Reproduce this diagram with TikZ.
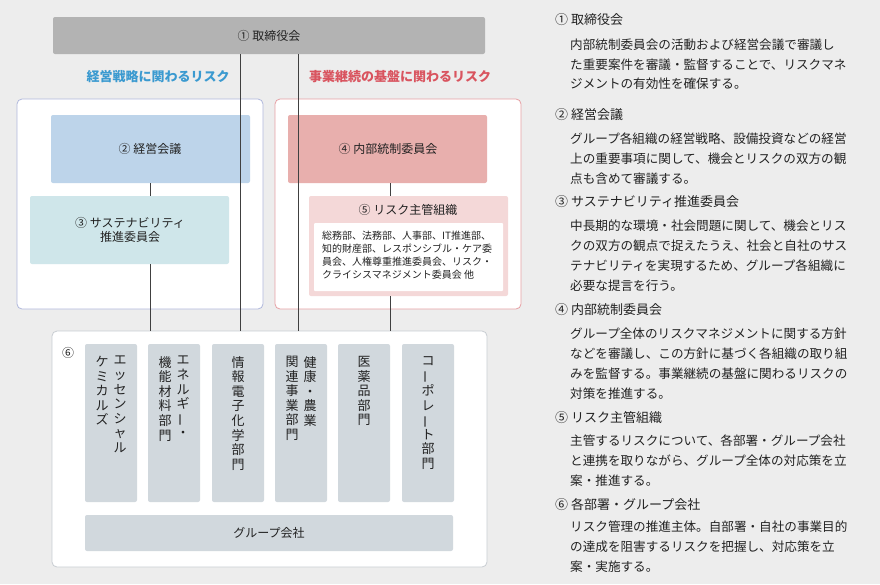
\documentclass[tikz,border=0pt]{standalone}
\usepackage{fontspec}
\setmainfont{Noto Sans CJK JP}
\newfontfamily\jp{Noto Sans CJK JP}
\usepackage{graphicx}
\definecolor{bg}{HTML}{EDEDED}
\definecolor{topg}{HTML}{B3B3B3}
\definecolor{bluel}{HTML}{3B9AD0}
\definecolor{redl}{HTML}{D9545F}
\definecolor{bpanel}{HTML}{B0B8DC}
\definecolor{rpanel}{HTML}{E6A0A4}
\definecolor{b2}{HTML}{BDD4EA}
\definecolor{b3}{HTML}{CFE6EA}
\definecolor{b4}{HTML}{E8AFAD}
\definecolor{b5}{HTML}{F4D8D8}
\definecolor{colg}{HTML}{D1D8DD}
\definecolor{gb}{HTML}{C8CDD2}
\definecolor{txt}{HTML}{222222}
\newcommand{\vb}{\rotatebox[origin=c]{90}{ー}}
\begin{document}
\begin{tikzpicture}[x=1pt,y=-1pt,
  box/.style={rounded corners=2pt,draw=none},
  lbl/.style={font=\fontsize{12}{14}\selectfont,text=txt},
  vt/.style={anchor=north,align=center,inner sep=0pt,font=\fontsize{13}{14.6}\selectfont,text=txt},
  ln/.style={draw=black!75,line width=0.6pt},
  rt/.style={anchor=west,inner sep=0pt,font=\fontsize{13}{15}\selectfont,text=txt},
  rb/.style={anchor=west,inner sep=0pt,font=\fontsize{12.6}{15}\selectfont,text=txt}]
\fill[bg] (0,0) rectangle (880,584);
\useasboundingbox (0,0) rectangle (880,584);
% panels
\filldraw[fill=white,draw=bpanel,rounded corners=5pt,line width=0.8pt] (17,99) rectangle (263,309);
\filldraw[fill=white,draw=rpanel,rounded corners=5pt,line width=0.8pt] (275,99) rectangle (521,309);
\filldraw[fill=white,draw=gb,rounded corners=5pt,line width=0.8pt] (52,331) rectangle (487,567);
% nodes
\fill[box,topg] (53,17) rectangle (485,54); \node[lbl] (n1) at (269,36) {① 取締役会};
\coordinate (a1) at (240,54); \coordinate (a2) at (298,54);
\node[font=\fontsize{13}{15}\selectfont\bfseries,text=bluel] (tl) at (158,77) {経営戦略に関わるリスク};
\node[font=\fontsize{13}{15}\selectfont\bfseries,text=redl] (tr) at (400,77) {事業継続の基盤に関わるリスク};
\fill[box,b2] (51,115) rectangle (250,183); \node[lbl] (n2) at (150,149) {② 経営会議};
\fill[box,b3] (30,196) rectangle (229,264); \node[lbl,align=center] (n3) at (130,230) {③ サステナビリティ\\推進委員会};
\fill[box,b4] (288,115) rectangle (487,183); \node[lbl] (n4) at (388,149) {④ 内部統制委員会};
\fill[box,b5] (309,196) rectangle (508,296); \node[lbl] (n5) at (408,210) {⑤ リスク主管組織};
\fill[rounded corners=1pt,white] (314,223) rectangle (503,291);
\node[anchor=north west,align=left,inner sep=0pt,font=\fontsize{10}{13}\selectfont,text=txt] (n5t) at (322,231) {総務部、法務部、人事部、IT推進部、\\知的財産部、レスポンシブル・ケア委\\員会、人権尊重推進委員会、リスク・\\クライシスマネジメント委員会 他};
% connectors
\draw[ln] (240,54) -- (240,331);
\draw[ln] (298,54) -- (298,331);
\draw[ln] (150,183) -- (150,196);
\draw[ln] (150,264) -- (150,331);
\draw[ln] (390,183) -- (390,196);
\draw[ln] (390,296) -- (390,331);
% bottom
\node[lbl] (n6) at (68,353) {⑥};
\foreach \x in {85,148,212,275,338,402} \fill[box,colg] (\x,344) rectangle (\x+52,502);
\fill[box,colg] (85,515) rectangle (453,551);
\node[lbl] (g) at (269,533) {グループ会社};
\node[vt] (c1a) at (120,356) {エ\\ッ\\セ\\ン\\シ\\ャ\\ル};
\node[vt] (c1b) at (102,356) {ケ\\ミ\\カ\\ル\\ズ};
\node[vt] (c2a) at (183,356) {エ\\ネ\\ル\\ギ\\\vb\\・};
\node[vt] (c2b) at (165,356) {機\\能\\材\\料\\部\\門};
\node[vt] (c3) at (238,356) {情\\報\\電\\子\\化\\学\\部\\門};
\node[vt] (c4a) at (310,356) {健\\康\\・\\農\\業};
\node[vt] (c4b) at (292,356) {関\\連\\事\\業\\部\\門};
\node[vt] (c5) at (364,356) {医\\薬\\品\\部\\門};
\node[vt] (c6) at (428,356) {コ\\\vb\\ポ\\レ\\\vb\\ト\\部\\門};
% right text
\node[rt] at (555,20) {① 取締役会};
\node[rb] at (570,45) {内部統制委員会の活動および経営会議で審議し};
\node[rb] at (570,65) {た重要案件を審議・監督することで、リスクマネ};
\node[rb] at (570,84) {ジメントの有効性を確保する。};
\node[rt] at (555,115) {② 経営会議};
\node[rb] at (570,139) {グループ各組織の経営戦略、設備投資などの経営};
\node[rb] at (570,159) {上の重要事項に関して、機会とリスクの双方の観};
\node[rb] at (570,179) {点も含めて審議する。};
\node[rt] at (555,202) {③ サステナビリティ推進委員会};
\node[rb] at (570,226) {中長期的な環境・社会問題に関して、機会とリス};
\node[rb] at (570,246) {クの双方の観点で捉えたうえ、社会と自社のサス};
\node[rb] at (570,266) {テナビリティを実現するため、グループ各組織に};
\node[rb] at (570,286) {必要な提言を行う。};
\node[rt] at (555,310) {④ 内部統制委員会};
\node[rb] at (570,334) {グループ全体のリスクマネジメントに関する方針};
\node[rb] at (570,354) {などを審議し、この方針に基づく各組織の取り組};
\node[rb] at (570,374) {みを監督する。事業継続の基盤に関わるリスクの};
\node[rb] at (570,394) {対策を推進する。};
\node[rt] at (555,418) {⑤ リスク主管組織};
\node[rb] at (570,441) {主管するリスクについて、各部署・グループ会社};
\node[rb] at (570,461) {と連携を取りながら、グループ全体の対応策を立};
\node[rb] at (570,481) {案・推進する。};
\node[rt] at (555,505) {⑥ 各部署・グループ会社};
\node[rb] at (570,527) {リスク管理の推進主体。自部署・自社の事業目的};
\node[rb] at (570,547) {の達成を阻害するリスクを把握し、対応策を立};
\node[rb] at (570,567) {案・実施する。};
\end{tikzpicture}
\end{document}
